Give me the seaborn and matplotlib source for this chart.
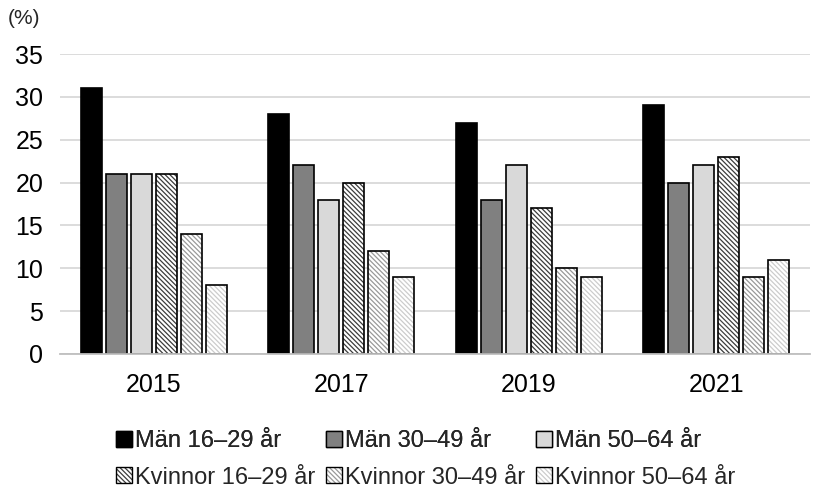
import matplotlib
matplotlib.use("Agg")
import matplotlib.pyplot as plt
import matplotlib.patches as mpatches
from matplotlib.legend_handler import HandlerTuple
import pandas as pd
import seaborn as sns

# data
YEARS = ["2015", "2017", "2019", "2021"]
GROUPS = ["Män 16–29 år", "Män 30–49 år", "Män 50–64 år",
          "Kvinnor 16–29 år", "Kvinnor 30–49 år", "Kvinnor 50–64 år"]
man_16_29 = [31, 28, 27, 29]
man_30_49 = [21, 22, 18, 20]
man_50_64 = [21, 18, 22, 22]
kv_16_29 = [21, 20, 17, 23]
kv_30_49 = [14, 12, 10, 9]
kv_50_64 = [8, 9, 9, 11]

# styles
FACES = ["#000000", "#808080", "#d9d9d9", "white", "white", "white"]
HATCH_COLORS = [None, None, None, "#3c3c3c", "#999999", "#cccccc"]
HATCH = "\\" * 7


def main():
    sns.set_style("white")
    plt.rcParams["font.family"] = ["Liberation Sans", "DejaVu Sans"]
    plt.rcParams["hatch.linewidth"] = 0.9

    series = [man_16_29, man_30_49, man_50_64, kv_16_29, kv_30_49, kv_50_64]
    rows = []
    for g, vals in zip(GROUPS, series):
        for y, v in zip(YEARS, vals):
            rows.append({"year": y, "group": g, "value": v})
    df = pd.DataFrame(rows)

    fig = plt.figure(figsize=(8.19, 4.88), dpi=100)
    ax = fig.add_axes([0.0733, 0.2746, 0.9157, 0.6147])

    sns.barplot(data=df, x="year", y="value", hue="group", order=YEARS,
                hue_order=GROUPS, palette=FACES, width=0.8, gap=0.17,
                edgecolor="black", linewidth=1.2, legend=False, ax=ax)

    handles = []
    for i, cont in enumerate(ax.containers):
        if HATCH_COLORS[i] is None:
            handles.append(mpatches.Patch(facecolor=FACES[i], edgecolor="black", linewidth=1.0))
            continue
        for p in cont.patches:
            p.set_facecolor("white")
            p.set_edgecolor(HATCH_COLORS[i])
            p.set_linewidth(0)
            p.set_hatch(HATCH)
            outline = mpatches.Rectangle(p.get_xy(), p.get_width(), p.get_height(),
                                         fill=False, edgecolor="black", linewidth=1.2, zorder=p.get_zorder() + 0.1)
            ax.add_patch(outline)
        h1 = mpatches.Patch(facecolor="white", edgecolor=HATCH_COLORS[i], linewidth=0, hatch=HATCH)
        h2 = mpatches.Patch(fill=False, edgecolor="black", linewidth=1.0)
        handles.append((h1, h2))

    ax.set_ylim(0, 35)
    ax.set_xlim(-0.5, 3.5)
    ax.set_yticks(range(0, 36, 5))
    ax.yaxis.grid(True, color="#d9d9d9", linewidth=1.3)
    ax.set_axisbelow(True)
    for s in ["top", "right", "left"]:
        ax.spines[s].set_visible(False)
    ax.spines["bottom"].set_color("#bfbfbf")
    ax.spines["bottom"].set_linewidth(1.3)
    ax.tick_params(axis="both", length=0, labelsize=18, colors="black")
    ax.tick_params(axis="y", pad=12)
    ax.tick_params(axis="x", pad=14)
    ax.set_xlabel("")
    ax.set_ylabel("")
    fig.text(0.009, 0.962, "(%)", fontsize=15, ha="left", va="center")

    # legend in two rows, like the original
    hm = {tuple: HandlerTuple(ndivide=1)}
    kw = dict(loc="center left", ncol=3, frameon=False, fontsize=17, handlelength=0.68,
              handleheight=0.68, handletextpad=0.13, borderpad=0, borderaxespad=0, handler_map=hm)
    leg1 = fig.legend(handles[:3], GROUPS[:3], bbox_to_anchor=(0.1416, 0.096), columnspacing=1.9, **kw)
    fig.legend(handles[3:], GROUPS[3:], bbox_to_anchor=(0.1416, 0.0215), columnspacing=0.45, **kw)
    fig.add_artist(leg1)

    fig.savefig("out.png", dpi=100)


if __name__ == "__main__":
    main()
